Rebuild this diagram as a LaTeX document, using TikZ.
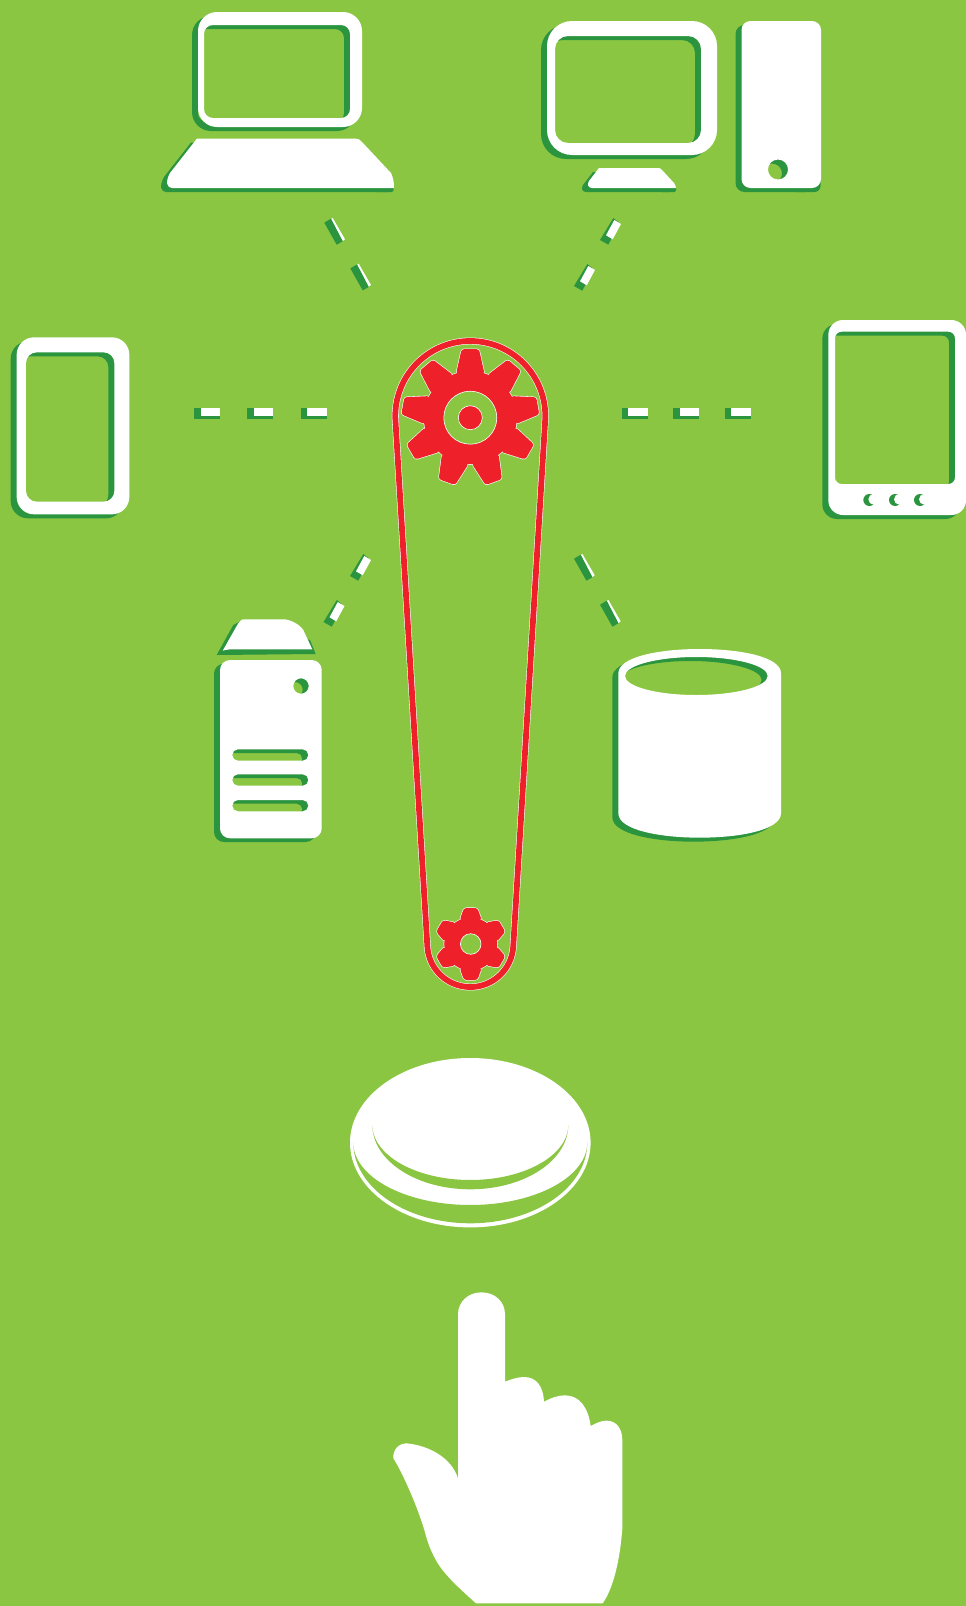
\documentclass[tikz,border=0pt]{standalone}
\definecolor{bggreen}{HTML}{8BC643}
\definecolor{leafdark}{HTML}{2B943E}
\definecolor{gearred}{HTML}{EE2029}
% white shape with its dark copy behind it: #1 offset, #2 placement, #3 path
\newcommand\duo[3]{%
  \fill[leafdark,even odd rule,shift={#1},#2] #3;
  \fill[white,even odd rule,#2] #3;}
% rounded rectangle as explicit path: x1 y1 x2 y2 r
\newcommand\rr[5]{%
  ({#1+#5},#2) -- ({#3-#5},#2) .. controls ({#3-0.4477*#5},#2) and (#3,{#2+0.4477*#5}) .. (#3,{#2+#5})
  -- (#3,{#4-#5}) .. controls (#3,{#4-0.4477*#5}) and ({#3-0.4477*#5},#4) .. ({#3-#5},#4)
  -- ({#1+#5},#4) .. controls ({#1+0.4477*#5},#4) and (#1,{#4-0.4477*#5}) .. (#1,{#4-#5})
  -- (#1,{#2+#5}) .. controls (#1,{#2+0.4477*#5}) and ({#1+0.4477*#5},#2) .. ({#1+#5},#2) -- cycle }
% gear: cx cy teeth rtip halfwidth-tip rroot halfwidth-base corner hole
\newcommand\gear[9]{%
  \foreach \k in {1,...,#3} {
    \draw[white,line width=1.2pt,shift={(#1,#2)},rotate={\k*360/#3},rounded corners=#8]
      (-#7,{-#6+2.5}) -- (-#5,-#4) -- (#5,-#4) -- (#7,{-#6+2.5}) -- cycle;
  }
  \draw[white,line width=1.2pt] (#1,#2) circle[radius=#6];
  \foreach \k in {1,...,#3} {
    \fill[gearred,shift={(#1,#2)},rotate={\k*360/#3},rounded corners=#8]
      (-#7,{-#6+2.5}) -- (-#5,-#4) -- (#5,-#4) -- (#7,{-#6+2.5}) -- cycle;
  }
  \fill[gearred] (#1,#2) circle[radius=#6];
  \path[fill=bggreen,draw=white,line width=0.6pt] (#1,#2) circle[radius=#9];}
\tikzset{
  zoomed/.style 2 args={shift={(#1,#2)},scale=0.33333}
}
% dash whose dark part dominates
\newcommand\dashA[2]{\begin{scope}[shift={(#1,#2)}]
  \fill[white] (331,219) -- (332.7,218) -- (345,239.3) -- (342.7,241) -- cycle;
  \fill[leafdark] (324.3,222.7) -- (331,218.7) -- (342.7,241.3) -- (336.7,244.7) -- cycle;
\end{scope}}
% dash whose white part dominates
\newcommand\dashB[2]{\begin{scope}[shift={(#1,#2)}]
  \fill[leafdark] (613.3,218) -- (600,240) -- (608.3,244.7) -- (613.3,235.3) -- (618.3,222) -- cycle;
  \fill[white] (614.3,220) -- (621,224) -- (612.7,239.3) -- (606,235.3) -- cycle;
\end{scope}}
\newcommand\dashH[1]{%
  \fill[leafdark] (#1,408.3) rectangle ++(26,11);
  \fill[white] ({#1+6.4},408.3) rectangle ++(19.6,7.4);}
\begin{document}
\begin{tikzpicture}[x=1pt,y=-1pt]
\useasboundingbox (0,0) rectangle (966,1606);
\fill[bggreen] (0,0) rectangle (966,1606);

% laptop
\duo{(-6,4)}{}{\rr{198}{12}{362}{127}{19} \rr{204}{25}{350}{118}{9}}
\fill[leafdark,rounded corners=2] (375,186) rectangle (393.5,192);
\duo{(-6,4)}{}{(197,138.5) -- (355,138.5) .. controls (358,138.5) and (360,139.5) .. (362,142) -- (391,173) .. controls (393,177) and (394,182) .. (394,188) -- (172,188) .. controls (167,188) and (165,182) .. (170,173) -- cycle}

% desktop monitor
\duo{(-6,4)}{}{\rr{547}{21}{717}{155}{25} \rr{555}{36}{701}{143}{13}}
\fill[leafdark,rounded corners=1.5] (660,186) rectangle (676,192);
\duo{(-6,4)}{}{(599,168) -- (658,168) .. controls (660,168) and (661,168.5) .. (662,170) -- (674,183) .. controls (675,185) and (676,186) .. (676,188) -- (592,188) .. controls (588,188) and (587,184) .. (589,181) -- cycle}

% desktop tower
\fill[leafdark,rounded corners=6] (790,175) rectangle (820.5,192);
\duo{(-6,4)}{}{\rr{741.5}{21}{821}{188}{9} (778,169.5) circle[radius=10]}

% phone
\duo{(-6,4)}{zoomed={0}{325}}{\rr{50}{37}{388}{568}{52} \rr{78}{82}{343}{530}{32}}

% tablet
\duo{(-6,4)}{zoomed={810}{310}}{\rr{55}{30}{468}{615}{44} \rr{75}{65}{435}{522}{20}}
\begin{scope}[zoomed={810}{310}]
  \foreach \bx in {178,255,330} {
    \fill[leafdark] (\bx,570) circle[radius=18];
    \fill[white] ({\bx+13},568) circle[radius=16];
  }
\end{scope}

% server
\fill[leafdark] (216.7,655) -- (233.3,625) -- (243,620) -- (310,640) -- (315.7,654) -- cycle;
\fill[white] (243.3,619.3) -- (285,619.3) .. controls (298.3,621.7) and (303.3,630) .. (303.3,630) -- (312.3,649.3) -- (233.3,649.3) .. controls (226,649.3) and (222.7,650.7) .. (222.7,650.7) -- (236.7,626) .. controls (240,619.3) and (243.3,619.3) .. (243.3,619.3) -- cycle;
\duo{(-6,3.7)}{}{\rr{220}{660}{321.7}{838.3}{10} (301,686) circle[radius=7.7] \rr{232.3}{749.3}{308.3}{760.7}{5.6} \rr{232.3}{774.3}{308.3}{785.7}{5.6} \rr{232.3}{800}{308.3}{811.3}{5.6}}

% cylinder
\duo{(-6,4)}{zoomed={600}{640}}{(55,100) .. controls (55,50) and (180,27) .. (299,27) .. controls (420,27) and (543,50) .. (543,100) -- (543,520) .. controls (543,570) and (420,593) .. (299,593) .. controls (180,593) and (55,570) .. (55,520) -- cycle (503,108) arc[start angle=0,end angle=360,x radius=214,y radius=57]}

% dashes
\dashA{0}{0}\dashA{26}{45.7}
\dashB{0}{0}\dashB{-26}{46}
\dashB{-250}{336}\dashB{-276.5}{382}
\dashA{249.7}{336}\dashA{275.7}{382}
\dashH{194.3}\dashH{247.3}\dashH{300.7}
\dashH{621.7}\dashH{673.3}\dashH{725}

% belt
\path[draw=white,line width=6.9pt,line join=round]
  plot[domain=176.53:363.47,samples=90] ({470.3+75*cos(\x)},{416+75*sin(\x)})
  -- plot[domain=3.47:176.53,samples=70] ({470.3+43*cos(\x)},{944+43*sin(\x)}) -- cycle;
\path[draw=gearred,line width=5.8pt,line join=round]
  plot[domain=176.53:363.47,samples=90] ({470.3+75*cos(\x)},{416+75*sin(\x)})
  -- plot[domain=3.47:176.53,samples=70] ({470.3+43*cos(\x)},{944+43*sin(\x)}) -- cycle;

% large gear
\gear{470.3}{417.7}{9}{68.5}{8.7}{46.5}{14.2}{2.5}{26.5}
\path[fill=gearred,draw=white,line width=0.6pt] (470.3,417.7) circle[radius=12];

% small gear
\gear{470.7}{944}{6}{36}{6.7}{26.5}{11}{2.6}{10.3}

% button
\fill[white] (470.3,1142.7) ellipse[x radius=120.3,y radius=84.7];
\fill[bggreen] plot[domain=180:0,samples=70] ({470.3+117*cos(\x)},{1142.7+62.3*sin(\x)})
  -- plot[domain=0:180,samples=70] ({470.3+117*cos(\x)},{1142.7+80.6*sin(\x)}) -- cycle;
\fill[bggreen] plot[domain=180:0,samples=70] ({470.3+98*cos(\x)},{1125+55*sin(\x)})
  -- plot[domain=0:180,samples=70] ({470.3+98*cos(\x)},{1125+64.3*sin(\x)}) -- cycle;

% hand
\fill[white,zoomed={380}{1280}] (234,595) -- (234,103) .. controls (234,65) and (265,37) .. (304,37) .. controls (345,37) and (375,65) .. (375,103) -- (375,305)
  .. controls (395,297) and (415,291) .. (432,291) .. controls (470,291) and (490,320) .. (492,365)
  .. controls (515,353) and (535,346) .. (555,346) .. controls (600,346) and (625,385) .. (632,438)
  .. controls (650,428) and (665,422) .. (680,422) .. controls (708,422) and (727,445) .. (727,480)
  -- (727,745) .. controls (720,840) and (700,925) .. (668,970)
  -- (288,970) .. controls (250,935) and (190,885) .. (165,835) .. controls (140,790) and (135,750) .. (125,725)
  .. controls (100,650) and (60,565) .. (40,535)
  .. controls (38,510) and (55,490) .. (80,490) .. controls (150,497) and (215,535) .. (234,595) -- cycle;
\end{tikzpicture}
\end{document}
